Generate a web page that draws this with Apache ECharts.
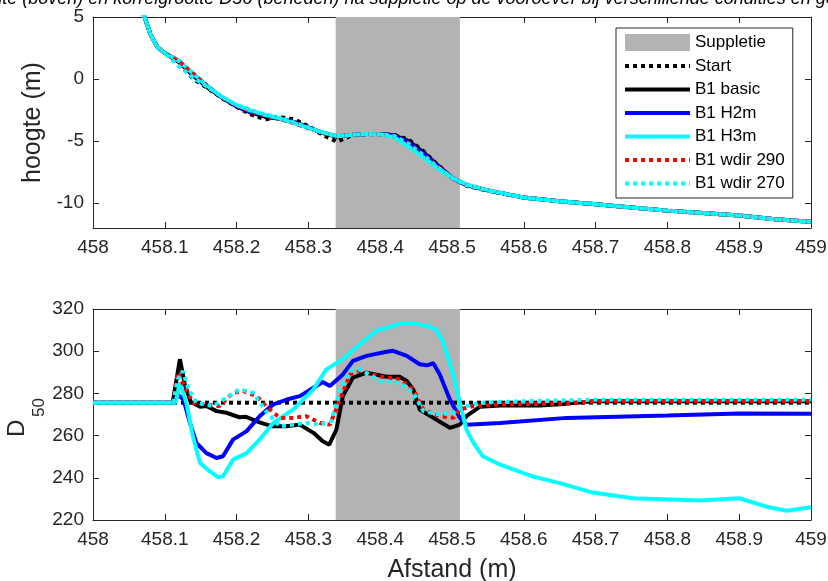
<!DOCTYPE html>
<html>
<head>
<meta charset="utf-8">
<script src="https://cdn.jsdelivr.net/npm/echarts@6/dist/echarts.min.js"></script>
<style>html,body{margin:0;padding:0;background:#fff}#c{width:828px;height:581px}</style>
</head>
<body>
<div id="c"></div>
<script>
// ---- tick labels / ranges ----
const xTicks = [458, 458.1, 458.2, 458.3, 458.4, 458.5, 458.6, 458.7, 458.8, 458.9, 459];
const topYTicks = [-10, -5, 0, 5];
const botYTicks = [220, 240, 260, 280, 300, 320];
const suppletie = [458.338, 458.511];
const seriesNames = ['Start', 'B1 basic', 'B1 H2m', 'B1 H3m', 'B1 wdir 290', 'B1 wdir 270'];

// ---- top panel: hoogte (m) ----
const profX = [458.07, 458.08, 458.09, 458.10, 458.12, 458.14, 458.16, 458.18, 458.20, 458.22, 458.24, 458.26, 458.28, 458.30, 458.32, 458.34, 458.36, 458.38, 458.40, 458.42, 458.44, 458.46, 458.48, 458.50, 458.52, 458.55, 458.60, 458.65, 458.70, 458.75, 458.80, 458.85, 458.90, 458.95, 459.0];
const profStart = [5.3, 3.6, 2.55, 2.1, 1.2, 0.0, -0.75, -1.55, -2.25, -2.85, -3.25, -3.05, -3.25, -3.8, -4.5, -5.05, -4.55, -4.45, -4.45, -4.5, -4.9, -5.8, -6.9, -7.95, -8.6, -9.0, -9.55, -9.85, -10.08, -10.35, -10.6, -10.8, -11.0, -11.3, -11.5];
const profBasic = [5.3, 3.6, 2.55, 2.1, 1.35, 0.25, -0.7, -1.5, -2.2, -2.7, -3.05, -3.2, -3.45, -3.9, -4.35, -4.65, -4.5, -4.42, -4.42, -4.55, -5.0, -5.9, -6.95, -7.95, -8.55, -8.97, -9.55, -9.85, -10.08, -10.35, -10.6, -10.8, -11.0, -11.3, -11.5];
const profH2m = [5.3, 3.6, 2.55, 2.1, 1.45, 0.35, -0.6, -1.5, -2.2, -2.65, -2.95, -3.2, -3.5, -3.92, -4.32, -4.6, -4.5, -4.42, -4.42, -4.55, -5.1, -6.0, -7.0, -7.95, -8.55, -8.97, -9.55, -9.85, -10.08, -10.35, -10.6, -10.8, -11.0, -11.3, -11.5];
const profH3m = [5.3, 3.6, 2.55, 2.1, 1.45, 0.4, -0.6, -1.45, -2.1, -2.55, -2.9, -3.18, -3.55, -3.95, -4.32, -4.6, -4.5, -4.42, -4.45, -4.7, -5.45, -6.3, -7.15, -7.95, -8.5, -8.95, -9.55, -9.85, -10.08, -10.35, -10.6, -10.8, -11.0, -11.3, -11.5];
const profW290 = [5.3, 3.6, 2.55, 2.1, 1.4, 0.4, -0.6, -1.5, -2.15, -2.6, -2.95, -3.2, -3.55, -3.95, -4.32, -4.6, -4.5, -4.42, -4.45, -4.6, -5.2, -6.1, -7.05, -7.95, -8.55, -8.97, -9.55, -9.85, -10.08, -10.35, -10.6, -10.8, -11.0, -11.3, -11.5];
const profW270 = [5.3, 3.6, 2.55, 2.1, 1.0, 0.1, -0.65, -1.45, -2.1, -2.5, -2.85, -3.15, -3.5, -3.9, -4.3, -4.6, -4.5, -4.42, -4.45, -4.6, -5.25, -6.15, -7.1, -7.95, -8.55, -8.97, -9.55, -9.85, -10.08, -10.35, -10.6, -10.8, -11.0, -11.3, -11.5];

// ---- bottom panel: D50 ----
const startX = [458, 459];
const startY = [275.6, 275.6];
const basicX = [458, 458.111, 458.121, 458.128, 458.136, 458.149, 458.158, 458.172, 458.186, 458.204, 458.213, 458.232, 458.25, 458.269, 458.288, 458.307, 458.32, 458.329, 458.339, 458.348, 458.362, 458.381, 458.409, 458.427, 458.437, 458.446, 458.455, 458.474, 458.497, 458.511, 458.52, 458.539, 458.567, 458.622, 458.65, 458.696, 458.8, 459];
const basicY = [275.6, 275.6, 296.2, 284, 276, 273.7, 274, 271.6, 270.8, 268.7, 268.9, 266.3, 264.4, 264.4, 265.2, 261.3, 257.3, 255.7, 262.9, 278.7, 287.5, 289.8, 287.9, 287.9, 285.9, 281.9, 272.4, 268.4, 263.7, 265.2, 269.2, 273.7, 274.3, 274.3, 274.8, 276.3, 276.3, 276.3];
const h2mX = [458, 458.113, 458.118, 458.126, 458.135, 458.144, 458.158, 458.172, 458.181, 458.195, 458.214, 458.232, 458.251, 458.27, 458.288, 458.307, 458.32, 458.33, 458.348, 458.362, 458.381, 458.409, 458.418, 458.437, 458.455, 458.465, 458.474, 458.483, 458.497, 458.511, 458.52, 458.567, 458.66, 458.8, 458.9, 459];
const h2mY = [275.6, 275.6, 279.5, 277.1, 266, 256.5, 251.7, 249.4, 250.2, 258.1, 262.1, 269.2, 274.8, 277.1, 278.7, 282.7, 285.4, 283.5, 289, 295.4, 297.8, 299.7, 300.2, 297.8, 293.8, 293.3, 294.3, 289, 277.1, 268.4, 265.2, 266, 268.4, 269.5, 270.5, 270.3];
const h3mX = [458, 458.115, 458.121, 458.13, 458.139, 458.149, 458.163, 458.174, 458.181, 458.195, 458.214, 458.232, 458.251, 458.279, 458.307, 458.325, 458.348, 458.372, 458.395, 458.427, 458.446, 458.465, 458.478, 458.488, 458.502, 458.511, 458.52, 458.53, 458.543, 458.567, 458.613, 458.65, 458.696, 458.752, 458.845, 458.9, 458.938, 458.966, 459];
const h3mY = [275.6, 275.6, 285.1, 275.6, 259.7, 247, 243, 240.3, 240.6, 248.6, 251.7, 258.1, 266, 272.4, 281.9, 291.4, 296.2, 303.3, 309.7, 312.9, 313.3, 312.1, 310.2, 304.1, 288.3, 275.6, 262.9, 256.5, 250.2, 246.2, 240.6, 237.5, 233, 230.3, 229.2, 230.3, 226.3, 224.4, 226];
const w290X = [458, 458.112, 458.118, 458.127, 458.139, 458.158, 458.176, 458.195, 458.209, 458.228, 458.241, 458.26, 458.279, 458.297, 458.316, 458.33, 458.344, 458.358, 458.372, 458.4, 458.427, 458.446, 458.46, 458.483, 458.502, 458.511, 458.53, 458.567, 458.66, 458.7, 459];
const w290Y = [275.6, 275.6, 289.8, 283.5, 275.6, 274.8, 274, 280.3, 281.1, 278.7, 274, 268.4, 268.4, 269.2, 266, 265.2, 277.1, 289, 290.6, 288, 286.7, 281.9, 272.4, 269.2, 268.4, 272.4, 274, 274.8, 275.2, 276.3, 276.3];
const w270X = [458, 458.112, 458.118, 458.125, 458.133, 458.144, 458.167, 458.186, 458.204, 458.223, 458.241, 458.26, 458.279, 458.297, 458.316, 458.332, 458.344, 458.358, 458.372, 458.4, 458.427, 458.446, 458.46, 458.483, 458.502, 458.511, 458.539, 458.6, 458.7, 459];
const w270Y = [275.6, 275.6, 286.7, 290.6, 282, 275.6, 274, 278, 281.9, 280.3, 271.6, 264.4, 265.2, 266, 265.2, 266.8, 281.9, 290.6, 291.4, 285.9, 285.1, 280.3, 271.6, 270, 270.8, 273.2, 275.6, 276.3, 277, 277];

// ---- styling ----
const FONT = "'Liberation Sans', Arial, Helvetica, sans-serif";
const AX = '#262626';
const LW = 4;
const styles = {
  'Start':       {color: '#000000', dotted: true},
  'B1 basic':    {color: '#000000', dotted: false},
  'B1 H2m':      {color: '#0000ff', dotted: false},
  'B1 H3m':      {color: '#00ffff', dotted: false},
  'B1 wdir 290': {color: '#ff0000', dotted: true},
  'B1 wdir 270': {color: '#00ffff', dotted: true}
};
const topData = {'Start': profStart, 'B1 basic': profBasic, 'B1 H2m': profH2m, 'B1 H3m': profH3m, 'B1 wdir 290': profW290, 'B1 wdir 270': profW270};
const botData = {
  'Start': [startX, startY], 'B1 basic': [basicX, basicY], 'B1 H2m': [h2mX, h2mY],
  'B1 H3m': [h3mX, h3mY], 'B1 wdir 290': [w290X, w290Y], 'B1 wdir 270': [w270X, w270Y]
};
const zip = (xs, ys) => xs.map((x, i) => [x, ys[i]]);
const fmtX = v => String(Math.round(v * 10) / 10);

function xAxes(gi, showName) {
  const base = {
    type: 'value', gridIndex: gi, min: 458, max: 459,
    axisLine: {onZero: false, lineStyle: {color: AX, width: 1}},
    splitLine: {show: false}
  };
  return [
    Object.assign({}, base, {
      position: 'bottom',
      axisTick: {inside: true, length: 6, customValues: xTicks, lineStyle: {color: AX}},
      axisLabel: {customValues: xTicks, formatter: fmtX, fontSize: 19, color: AX, fontFamily: FONT, margin: 10},
      name: showName ? 'Afstand (m)' : '', nameLocation: 'middle', nameGap: 38,
      nameTextStyle: {fontSize: 25, color: AX, fontFamily: FONT}
    }),
    Object.assign({}, base, {
      position: 'top',
      axisTick: {inside: true, length: 6, customValues: xTicks, lineStyle: {color: AX}},
      axisLabel: {show: false}
    })
  ];
}
function yAxes(gi, min, max, ticks, name, nameGap) {
  const base = {
    type: 'value', gridIndex: gi, min: min, max: max,
    axisLine: {onZero: false, lineStyle: {color: AX, width: 1}},
    splitLine: {show: false}
  };
  return [
    Object.assign({}, base, {
      position: 'left',
      axisTick: {inside: true, length: 6, customValues: ticks, lineStyle: {color: AX}},
      axisLabel: {customValues: ticks, fontSize: 19, color: AX, fontFamily: FONT, margin: 9},
      name: name, nameLocation: 'middle', nameGap: nameGap,
      nameTextStyle: {fontSize: 25, color: AX, fontFamily: FONT}
    }),
    Object.assign({}, base, {
      position: 'right',
      axisTick: {inside: true, length: 6, customValues: ticks, lineStyle: {color: AX}},
      axisLabel: {show: false}
    })
  ];
}

const series = [];
// Suppletie bands (one per panel)
[0, 1].forEach(gi => {
  series.push({
    name: 'Suppletie', type: 'line', xAxisIndex: gi * 2, yAxisIndex: gi * 2,
    data: [], symbol: 'none', color: '#b3b3b3', z: 1,
    lineStyle: {color: '#b3b3b3'},
    markArea: {silent: true, itemStyle: {color: '#b3b3b3', opacity: 1},
      data: [[{xAxis: suppletie[0]}, {xAxis: suppletie[1]}]]}
  });
});
seriesNames.forEach((n, k) => {
  const st = styles[n];
  const ls = {color: st.color, width: LW, type: st.dotted ? [4, 4] : 'solid', cap: 'butt'};
  series.push({
    name: n, type: 'line', xAxisIndex: 0, yAxisIndex: 0, symbol: 'none', color: st.color,
    lineStyle: ls, z: 3 + k, animation: false,
    data: zip(profX, topData[n])
  });
  series.push({
    name: n, type: 'line', xAxisIndex: 2, yAxisIndex: 2, symbol: 'none', color: st.color,
    lineStyle: ls, z: 3 + k, animation: false,
    data: zip(botData[n][0], botData[n][1])
  });
});

const option = {
  animation: false,
  backgroundColor: '#ffffff',
  title: {
    text: 'Bodemhoogte (boven) en korrelgrootte D50 (beneden) na suppletie op de vooroever bij verschillende condities en golfrichtingen',
    left: 'center', top: -10, padding: 0,
    textStyle: {fontStyle: 'italic', fontWeight: 'normal', fontSize: 18, color: '#000', fontFamily: FONT}
  },
  grid: [
    {left: 93, right: 17, top: 17, height: 211, outerBoundsMode: 'none', containLabel: false},
    {left: 93, right: 17, top: 309, height: 211, outerBoundsMode: 'none', containLabel: false}
  ],
  xAxis: [].concat(xAxes(0, false), xAxes(1, true)),
  yAxis: [].concat(
    yAxes(0, -12, 5, topYTicks, 'hoogte (m)', 37),
    yAxes(1, 220, 320, botYTicks, '', 40)
  ),
  graphic: [
    {type: 'text', x: 29, y: 437, rotation: Math.PI / 2, silent: true,
     style: {text: 'D', fontSize: 24, fontFamily: FONT, fill: AX, align: 'left', verticalAlign: 'bottom'}},
    {type: 'text', x: 31, y: 417, rotation: Math.PI / 2, silent: true,
     style: {text: '50', fontSize: 17, fontFamily: FONT, fill: AX, align: 'left', verticalAlign: 'top'}}
  ],
  legend: {
    orient: 'vertical', left: 616, top: 28,
    itemWidth: 65, itemHeight: 17, itemGap: 6.5,
    padding: [6, 8, 6, 7],
    borderColor: AX, borderWidth: 1, backgroundColor: '#ffffff',
    itemStyle: {opacity: 0},
    lineStyle: {width: LW},
    textStyle: {fontSize: 17, color: '#000', fontFamily: FONT},
    data: [{name: 'Suppletie', icon: 'rect', itemStyle: {opacity: 1, color: '#b3b3b3'}}].concat(seriesNames)
  },
  series: series
};

const chart = echarts.init(document.getElementById('c'), null, {renderer: 'canvas'});
chart.setOption(option);
</script>
</body>
</html>
